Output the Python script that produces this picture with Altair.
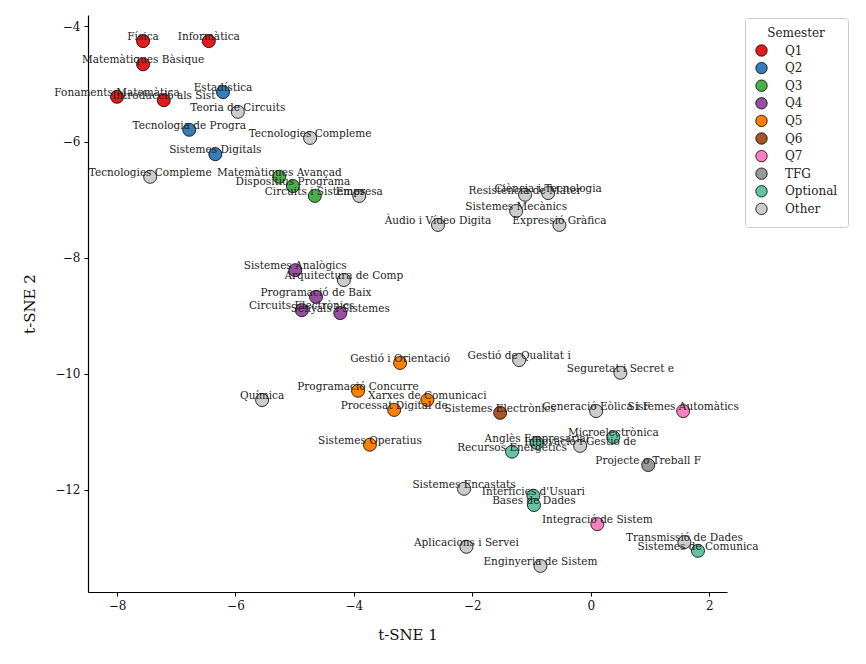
import altair as alt
import pandas as pd

names = [
    "Física", "Informàtica", "Matemàtiques Bàsique", "Fonaments Matemàtica", "Introducció als Sist",
    "Estadística", "Tecnologia de Progra", "Sistemes Digitals",
    "Matemàtiques Avançad", "Dispositius Programa", "Circuits i Sistemes",
    "Sistemes Analògics", "Programació de Baix", "Circuits Electrònics", "Senyals i Sistemes",
    "Gestió i Orientació", "Programació Concurre", "Xarxes de Comunicaci", "Processat Digital de", "Sistemes Operatius",
    "Sistemes Electrònics",
    "Sistemes Automàtics", "Integració de Sistem",
    "Projecte o Treball F",
    "Microelectrònica", "Anglès Empresarial", "Recursos Energètics", "Interfícies d'Usuari", "Bases de Dades", "Sistemes de Comunica",
    "Teoria de Circuits", "Tecnologies Compleme", "Tecnologies Compleme ", "Empresa", "Resistència de Mater",
    "Ciència i Tecnologia", "Sistemes Mecànics", "Àudio i Vídeo Digita", "Expressió Gràfica", "Arquitectura de Comp",
    "Química", "Gestió de Qualitat i", "Seguretat i Secret e", "Generació Eòlica i F", "Innovació i Gestió de",
    "Sistemes Encastats", "Aplicacions i Servei", "Enginyeria de Sistem", "Transmissió de Dades",
]
semesters = (
    ["Q1"] * 5 + ["Q2"] * 3 + ["Q3"] * 3 + ["Q4"] * 4 + ["Q5"] * 5 + ["Q6"] * 1 + ["Q7"] * 2
    + ["TFG"] * 1 + ["Optional"] * 6 + ["Other"] * 19
)
xs = [
    -7.56, -6.45, -7.56, -8.00, -7.21,
    -6.21, -6.78, -6.34,
    -5.26, -5.03, -4.66,
    -4.99, -4.64, -4.88, -4.23,
    -3.22, -3.93, -2.76, -3.32, -3.73,
    -1.53,
    1.56, 0.11,
    0.97,
    0.38, -0.91, -1.33, -0.97, -0.96, 1.81,
    -5.96, -4.74, -7.44, -3.91, -1.11,
    -0.72, -1.26, -2.58, -0.53, -4.17,
    -5.55, -1.21, 0.50, 0.09, -0.18,
    -2.14, -2.10, -0.85, 1.58,
]
ys = [
    -4.26, -4.26, -4.66, -5.22, -5.28,
    -5.14, -5.79, -6.21,
    -6.60, -6.76, -6.93,
    -8.21, -8.67, -8.90, -8.95,
    -9.81, -10.29, -10.45, -10.62, -11.22,
    -10.67,
    -10.64, -12.59,
    -11.57,
    -11.09, -11.19, -11.34, -12.10, -12.26, -13.05,
    -5.48, -5.93, -6.60, -6.93, -6.91,
    -6.88, -7.19, -7.43, -7.43, -8.38,
    -10.45, -9.76, -9.98, -10.64, -11.24,
    -11.98, -12.98, -13.31, -12.90,
]

sem_order = ["Q1", "Q2", "Q3", "Q4", "Q5", "Q6", "Q7", "TFG", "Optional", "Other"]
sem_colors = ["#e41a1c", "#377eb8", "#4daf4a", "#984ea3", "#ff7f00", "#a65628",
              "#f781bf", "#999999", "#66c2a5", "#cccccc"]
x_ticks = [-8, -6, -4, -2, 0, 2]
y_ticks = [-12, -10, -8, -6, -4]

df = pd.DataFrame({"name": names, "semester": semesters, "x": xs, "y": ys})
df["label"] = df["name"].str.strip()

FONT = "DejaVu Serif"

xenc = alt.X("x:Q", scale=alt.Scale(domain=[-8.49, 2.30], nice=False, zero=False),
             axis=alt.Axis(values=x_ticks, title="t-SNE 1", grid=False, format="d"))
yenc = alt.Y("y:Q", scale=alt.Scale(domain=[-13.76, -3.81], nice=False, zero=False),
             axis=alt.Axis(values=y_ticks, title="t-SNE 2", grid=False, format="d"))

points = alt.Chart(df).mark_circle(size=170, opacity=1, stroke="black", strokeWidth=0.8).encode(
    x=xenc, y=yenc,
    color=alt.Color("semester:N", scale=alt.Scale(domain=sem_order, range=sem_colors),
                    sort=sem_order,
                    legend=alt.Legend(title="Semester", orient="none", legendX=657, legendY=3,
                                      symbolType="circle", symbolSize=130,
                                      symbolStrokeColor="black", symbolStrokeWidth=0.8,
                                      symbolOpacity=1,
                                      rowPadding=2.6, labelOffset=17,
                                      titleAnchor="middle", titleFontWeight="normal",
                                      titleFont=FONT, titleFontSize=12, labelFont=FONT,
                                      labelFontSize=12, labelColor="#222", titleColor="#222",
                                      padding=10, strokeColor="#cccccc", fillColor="white",
                                      cornerRadius=3, titlePadding=4)),
)

labels = alt.Chart(df).mark_text(font=FONT, fontSize=10.5, dy=-4, align="center",
                                 baseline="middle", color="#222").encode(
    x="x:Q", y="y:Q", text="label:N"
)

chart = (points + labels).properties(
    width=639, height=577,
    autosize=alt.AutoSizeParams(type="none"),
    padding={"left": 88, "top": 15, "right": 139, "bottom": 72},
).configure_view(stroke=None).configure_axis(
    domainColor="black", domainWidth=1.2, tickColor="black", tickSize=4, tickWidth=1,
    labelFont=FONT, labelFontSize=12, labelColor="#111", titleFont=FONT,
    titleFontSize=15, titleFontWeight="normal", titleColor="#111", labelPadding=4,
).configure_axisX(titlePadding=16).configure_axisY(titlePadding=17)

chart.save("out.html", embed_options={"renderer": "svg", "actions": False})
